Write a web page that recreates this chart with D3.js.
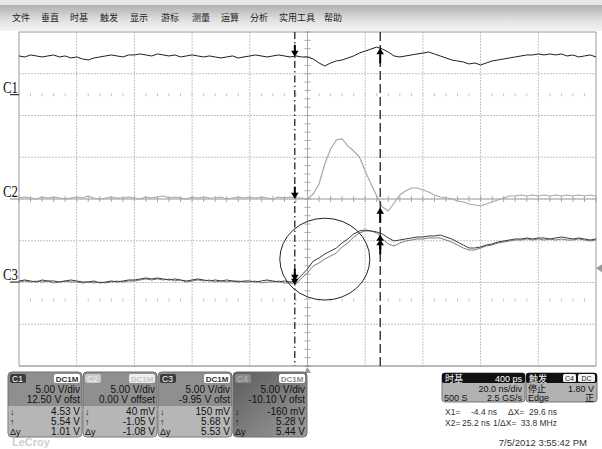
<!DOCTYPE html>
<html>
<head>
<meta charset="utf-8">
<script src="https://cdnjs.cloudflare.com/ajax/libs/d3/7.8.5/d3.min.js"></script>
<style>
html, body { margin: 0; padding: 0; background: #fff; }
svg { display: block; font-family: "Liberation Sans", Arial, sans-serif; }
</style>
</head>
<body>
<div id="scope"></div>
<script>
// menu bar
let menuItems = ["文件", "垂直", "时基", "触发", "显示", "游标", "测量", "运算", "分析", "实用工具", "帮助"];

// sample times (ns), 20 ns/div
let timeNs = [-100, -98, -96, -94, -92, -90, -88, -86, -84, -82,
    -80, -78, -76, -74, -72, -70, -68, -66, -64, -62,
    -60, -58, -56, -54, -52, -50, -48, -46, -44, -42,
    -40, -38, -36, -34, -32, -30, -28, -26, -24, -22,
    -20, -18, -16, -14, -12, -10, -8, -6, -4, -2,
    0, 2, 4, 6, 8, 10, 12, 14, 16, 18,
    20, 22, 24, 26, 28, 30, 32, 34, 36, 38,
    40, 42, 44, 46, 48, 50, 52, 54, 56, 58,
    60, 62, 64, 66, 68, 70, 72, 74, 76, 78,
    80, 82, 84, 86, 88, 90, 92, 94, 96, 98, 100];

// trace values (V)
let c1Volts = [4.63, 4.51, 4.75, 4.63, 4.51, 4.63, 4.75, 4.51, 4.63, 4.39,
    4.51, 4.27, 4.15, 4.39, 4.51, 4.63, 4.75, 4.63, 4.51, 4.75,
    4.75, 4.87, 4.75, 4.63, 4.87, 4.75, 4.63, 4.75, 4.51, 4.63,
    4.75, 4.63, 4.51, 4.63, 4.51, 4.39, 4.51, 4.63, 4.39, 4.51,
    4.63, 4.75, 4.63, 4.51, 4.63, 4.75, 4.63, 4.51,
    4.63, 4.51, 4.51, 4.27, 3.79, 3.43, 3.79, 4.03, 4.15, 4.39,
    4.63, 4.98, 5.22, 5.46, 5.70, 5.46, 5.10, 4.63, 4.51, 4.63,
    4.75, 4.87, 4.98, 5.10, 4.87, 4.63, 4.39, 4.15, 4.03, 3.91,
    3.67, 3.79, 3.55, 3.79, 4.03, 4.15, 4.27, 4.39, 4.51, 4.63,
    4.75, 4.75, 4.87, 4.75, 4.87, 4.75, 4.87, 4.63, 4.75, 4.51,
    4.63, 4.75, 4.51];

let c2Volts = [0.12, 0.24, 0.12, 0, 0.24, 0.12, 0.24, 0.12, 0, 0.12,
    0.24, 0.12, 0.36, 0.12, 0, 0.12, 0.24, 0.12, 0.12, 0.24,
    0.12, 0, 0.24, 0.12, 0.24, 0.36, 0.12, 0.24, 0.12, 0,
    0.24, 0.12, 0.24, 0.12, 0.12, 0.24, 0, 0.12, 0.24, 0.12,
    0.24, 0.12, 0.24, 0.12, 0, 0.24, 0.12, 0.24,
    0.12, 0.12, 0, 0.60, 1.80, 4.19, 5.99, 7.07, 7.19, 6.35,
    5.75, 5.03, 3.35, 1.80, 0.36, -0.96, -1.44, -0.48, 0.48, 0.96,
    1.32, 1.32, 1.08, 0.84, 0.48, 0.24, 0.12, 0, -0.24, -0.36,
    -0.60, -0.72, -0.84, -0.60, -0.36, -0.12, 0.12, 0.36, 0.36, 0.48,
    0.36, 0.48, 0.36, 0.48, 0.36, 0.48, 0.36, 0.48, 0.36, 0.48,
    0.36, 0.48, 0.36];

let c3Volts = [0.13, 0.25, 0.13, 0.01, 0.25, 0.13, 0.13, 0.01, 0.13, 0.25,
    0.13, 0.01, 0.01, 0.13, -0.11, 0.01, 0.13, 0.01, 0.13, 0.25,
    0.25, 0.37, 0.49, 0.37, 0.49, 0.37, 0.25, 0.37, 0.25, 0.13,
    0.25, 0.37, 0.25, 0.13, 0.25, 0.13, 0.25, 0.13, 0.01, 0.13,
    0.13, 0.01, 0.13, 0.25, 0.13, 0.01, 0.13, 0.01,
    0.13, 0.85, 1.57, 2.52, 2.88, 3.36, 3.72, 4.08, 4.68, 5.16,
    5.76, 6.12, 6.24, 6.12, 6.00, 5.76, 5.28, 4.92, 5.04, 5.16,
    5.28, 5.40, 5.40, 5.52, 5.52, 5.64, 5.40, 5.16, 4.80, 4.44,
    4.08, 4.08, 4.20, 4.44, 4.56, 4.80, 4.92, 5.04, 5.16, 5.16,
    5.28, 5.16, 5.28, 5.28, 5.16, 5.28, 5.40, 5.28, 5.16, 5.28,
    5.16, 5.04, 5.16];

let c4Volts = [0.16, 0.28, 0.16, 0.28, 0.16, 0.28, 0.04, 0.16, 0.28, 0.16,
    0.16, 0.04, 0.16, 0.04, 0.16, 0.04, 0.16, 0.28, 0.16, 0.28,
    0.28, 0.40, 0.52, 0.40, 0.52, 0.40, 0.52, 0.28, 0.40, 0.16,
    0.28, 0.40, 0.28, 0.40, 0.16, 0.28, 0.16, 0.28, 0.28, 0.16,
    0.16, 0.28, 0.04, 0.16, 0.16, 0.28, 0.04, 0.04,
    -0.08, 0.64, 1.24, 2.08, 2.44, 2.91, 3.27, 3.63, 4.35, 4.83,
    5.55, 6.03, 6.27, 6.27, 6.03, 5.31, 4.71, 4.47, 4.83, 5.07,
    5.19, 5.31, 5.31, 5.43, 5.43, 5.43, 5.19, 4.95, 4.59, 4.23,
    3.99, 3.99, 4.23, 4.47, 4.59, 4.83, 4.95, 5.07, 5.19, 5.19,
    5.31, 5.19, 5.31, 5.19, 5.31, 5.19, 5.31, 5.19, 5.19, 5.31,
    5.19, 5.07, 5.19];

// channel setup
let chNames = ["C1", "C2", "C3", "C4"];
let chVdiv = [5, 5, 5, 5];
let chOffset = [12.5, 0, -9.95, -10.10];
let chDivText = ["5.00 V/div", "5.00 V/div", "5.00 V/div", "5.00 V/div"];
let chOfstText = ["12.50 V ofst", "0.00 V offset", "-9.95 V ofst", "-10.10 V ofst"];
let cur1Text = ["4.53 V", "40 mV", "150 mV", "-160 mV"];
let cur2Text = ["5.54 V", "-1.05 V", "5.68 V", "5.28 V"];
let dyText = ["1.01 V", "-1.08 V", "5.53 V", "5.44 V"];
let cur1Volts = [4.53, 0.04, 0.15, -0.16];
let cur2Volts = [5.54, -1.05, 5.68, 5.28];

// cursors and trigger
let cursorNs = [-4.4, 25.2];
let trigNs = 0, trigLevel = 1.80, trigChannel = 3;
let refRowsDiv = [2.5, -2.42];

let readout1 = ["X1=", "-4.4 ns", "ΔX=", "29.6 ns"];
let readout2 = ["X2=", "25.2 ns", "1/ΔX=", "33.8 MHz"];

const W = 602, H = 449;
const svg = d3.select("#scope").append("svg").attr("width", W).attr("height", H);
const defs = svg.append("defs");

const x = d3.scaleLinear().domain([-100, 100]).range([19, 596]);
const y = d3.scaleLinear().domain([-4, 4]).range([366, 32]);

function divOf(ch, v) {
    return (v + chOffset[ch]) / chVdiv[ch];
}

// menu bar
let mg = defs.append("linearGradient").attr("id", "menuGrad")
    .attr("x1", 0).attr("y1", 0).attr("x2", 0).attr("y2", 1);
mg.append("stop").attr("offset", "0%").attr("stop-color", "#b0b0b0");
mg.append("stop").attr("offset", "60%").attr("stop-color", "#e2e2e2");
mg.append("stop").attr("offset", "100%").attr("stop-color", "#f3f3f3");
svg.append("rect").attr("x", 0).attr("y", 0).attr("width", W).attr("height", 5).attr("fill", "#e6e6e6");
svg.append("rect").attr("x", 0).attr("y", 5).attr("width", W).attr("height", 26).attr("fill", "url(#menuGrad)");

let menuPos = [12, 41, 70, 100, 130, 161, 192, 221, 250, 279, 324];
svg.selectAll(".menu")
    .data(menuItems)
    .enter()
    .append("text")
    .attr("x", (d, i) => menuPos[i])
    .attr("y", 21)
    .attr("font-family", "'Noto Sans CJK SC', sans-serif")
    .attr("font-size", 9)
    .attr("fill", "#222")
    .text(d => d);

// grid
const grid = svg.append("g");
grid.selectAll(".vg")
    .data(x.ticks(10).slice(1, -1))
    .enter()
    .append("line")
    .attr("x1", d => x(d)).attr("x2", d => x(d))
    .attr("y1", y(4)).attr("y2", y(-4))
    .attr("stroke", "#c2c2c2").attr("stroke-dasharray", "2,1");
grid.selectAll(".hg")
    .data(y.ticks(8).slice(1, -1))
    .enter()
    .append("line")
    .attr("x1", x(-100)).attr("x2", x(100))
    .attr("y1", d => y(d)).attr("y2", d => y(d))
    .attr("stroke", "#c2c2c2").attr("stroke-dasharray", "2,1");

// centre axes with minor ticks
grid.append("line").attr("x1", x(0)).attr("x2", x(0)).attr("y1", y(4)).attr("y2", y(-4))
    .attr("stroke", "#a8a8a8");
grid.append("line").attr("x1", x(-100)).attr("x2", x(100)).attr("y1", y(0)).attr("y2", y(0))
    .attr("stroke", "#a8a8a8");
grid.selectAll(".ty")
    .data(d3.range(-4, 4.01, 0.2))
    .enter()
    .append("line")
    .attr("x1", x(0) - 3).attr("x2", x(0) + 3)
    .attr("y1", d => y(d)).attr("y2", d => y(d))
    .attr("stroke", "#a8a8a8");
grid.selectAll(".tx")
    .data(d3.range(-100, 100.1, 4))
    .enter()
    .append("line")
    .attr("x1", d => x(d)).attr("x2", d => x(d))
    .attr("y1", y(0) - 3).attr("y2", y(0) + 3)
    .attr("stroke", "#a8a8a8");

// reference rows of small dots
refRowsDiv.forEach(r => {
    grid.selectAll(null)
        .data(d3.range(-96, 97, 4))
        .enter()
        .append("line")
        .attr("x1", d => x(d)).attr("x2", d => x(d))
        .attr("y1", y(r) - 1.5).attr("y2", y(r) + 1.5)
        .attr("stroke", d => d % 20 === 0 ? "#d0d0d0" : "#c6c6c6");
});

// border
grid.append("line").attr("x1", x(-100)).attr("x2", x(100)).attr("y1", y(4)).attr("y2", y(4)).attr("stroke", "#9a9a9a");
grid.append("line").attr("x1", x(-100)).attr("x2", x(100)).attr("y1", y(-4)).attr("y2", y(-4)).attr("stroke", "#777");
grid.append("line").attr("x1", x(-100)).attr("x2", x(-100)).attr("y1", y(4)).attr("y2", y(-4)).attr("stroke", "#9a9a9a");
grid.append("line").attr("x1", x(100)).attr("x2", x(100)).attr("y1", y(4)).attr("y2", y(-4)).attr("stroke", "#9a9a9a");

// traces
let traceColor = ["#1e1e1e", "#a9a9a9", "#3a3a3a", "#7c7c7c"];
let traceData = [c1Volts, c2Volts, c3Volts, c4Volts];
let drawOrder = [1, 3, 2, 0];
drawOrder.forEach(ch => {
    let line = d3.line()
        .x((d, i) => x(timeNs[i]))
        .y(d => y(divOf(ch, d)));
    svg.append("path")
        .datum(traceData[ch])
        .attr("fill", "none")
        .attr("stroke", traceColor[ch])
        .attr("stroke-width", ch === 1 ? 1.2 : 1)
        .attr("stroke-linejoin", "round")
        .attr("d", line);
});

// channel zero markers and labels
[0, 1, 2].forEach(ch => {
    let zy = y(divOf(ch, 0));
    svg.append("line").attr("x1", 10).attr("x2", x(-100)).attr("y1", zy).attr("y2", zy)
        .attr("stroke", ch === 1 ? "#9a9a9a" : "#333").attr("stroke-width", 1.2);
    svg.append("text")
        .attr("x", 3).attr("y", zy - 2)
        .attr("font-family", "'Liberation Serif', 'DejaVu Serif', serif")
        .attr("font-size", 17)
        .attr("textLength", 15)
        .attr("lengthAdjust", "spacingAndGlyphs")
        .attr("fill", "#111")
        .text(chNames[ch]);
});

// cursors
svg.append("line").attr("x1", x(cursorNs[0])).attr("x2", x(cursorNs[0]))
    .attr("y1", y(4)).attr("y2", y(-4))
    .attr("stroke", "#111").attr("stroke-width", 1.2).attr("stroke-dasharray", "7,3,1.5,3");
svg.append("line").attr("x1", x(cursorNs[1])).attr("x2", x(cursorNs[1]))
    .attr("y1", y(4)).attr("y2", y(-4))
    .attr("stroke", "#111").attr("stroke-width", 1.2).attr("stroke-dasharray", "9,4");

function arrow(cx, tip, dir, len) {
    // dir = 1 points down, -1 points up
    let g = svg.append("g");
    g.append("line").attr("x1", cx).attr("x2", cx)
        .attr("y1", tip - dir * len).attr("y2", tip - dir * 4)
        .attr("stroke", "#000").attr("stroke-width", 2);
    g.append("path")
        .attr("d", `M${cx - 3.8},${tip - dir * 6}L${cx + 3.8},${tip - dir * 6}L${cx},${tip}Z`)
        .attr("fill", "#000");
}
chNames.forEach((c, ch) => {
    arrow(x(cursorNs[0]), y(divOf(ch, cur1Volts[ch])), 1, 12);
    arrow(x(cursorNs[1]), y(divOf(ch, cur2Volts[ch])), -1, 15);
});

// annotation ellipse
svg.append("ellipse")
    .attr("cx", x(6)).attr("cy", y(-1.44))
    .attr("rx", x(21.6) - x(6)).attr("ry", y(-2.42) - y(-1.44))
    .attr("fill", "none").attr("stroke", "#222").attr("stroke-width", 1);

// trigger markers
svg.append("path")
    .attr("d", `M${x(trigNs) - 3.5},${y(-4) + 7}L${x(trigNs) + 3.5},${y(-4) + 7}L${x(trigNs)},${y(-4) + 1}Z`)
    .attr("fill", "#9a9a9a");
let ty = y(divOf(trigChannel, trigLevel));
svg.append("path")
    .attr("d", `M${W},${ty - 4}L${W},${ty + 4}L${W - 6},${ty}Z`)
    .attr("fill", "#9a9a9a");

// channel boxes
let c4g = defs.append("linearGradient").attr("id", "c4Grad")
    .attr("x1", 0).attr("y1", 0).attr("x2", 1).attr("y2", 1);
c4g.append("stop").attr("offset", "0%").attr("stop-color", "#5c5c5c");
c4g.append("stop").attr("offset", "100%").attr("stop-color", "#9c9c9c");

let boxX = [8, 83, 158, 233];
let boxW = 74, boxH = 65, boxY = 372;
chNames.forEach((name, i) => {
    let g = svg.append("g").attr("transform", `translate(${boxX[i]},${boxY})`);
    g.append("rect").attr("width", boxW).attr("height", boxH).attr("rx", 4)
        .attr("fill", i === 3 ? "url(#c4Grad)" : "#8f8f8f").attr("stroke", "#6e6e6e");
    if (i !== 3) {
        g.append("rect").attr("x", 0.5).attr("y", 34).attr("width", boxW - 1).attr("height", boxH - 34.5).attr("rx", 3.5)
            .attr("fill", "#b6b6b6");
        g.append("rect").attr("x", 0.5).attr("y", 34).attr("width", boxW - 1).attr("height", 5).attr("fill", "#b6b6b6");
    }
    let active = i === 0 || i === 2;
    g.append("rect").attr("x", 2).attr("y", 2).attr("width", 16).attr("height", 9).attr("rx", 2)
        .attr("fill", active ? "#3a3a3a" : (i === 1 ? "#cacaca" : "#8a8a8a"));
    g.append("text").attr("x", 4).attr("y", 9.5).attr("font-size", 8.5)
        .attr("fill", active ? "#fff" : (i === 1 ? "#eee" : "#b8b8b8")).text(name);
    g.append("rect").attr("x", 46).attr("y", 2).attr("width", 26).attr("height", 9).attr("rx", 2)
        .attr("fill", i === 1 ? "#eeeeee" : "#fff");
    g.append("text").attr("x", 59).attr("y", 9.5).attr("font-size", 8).attr("font-weight", "bold")
        .attr("text-anchor", "middle")
        .attr("fill", active ? "#333" : (i === 1 ? "#c4c4c4" : "#888")).text("DC1M");

    let right = boxW - 2;
    g.append("text").attr("x", right).attr("y", 21).attr("font-size", 10).attr("text-anchor", "end")
        .attr("fill", "#111").text(chDivText[i]);
    g.append("text").attr("x", right).attr("y", 31).attr("font-size", 10).attr("text-anchor", "end")
        .attr("fill", "#111").text(chOfstText[i]);
    let rows = [["↓", cur1Text[i]], ["↑", cur2Text[i]], ["Δy", dyText[i]]];
    rows.forEach((r, k) => {
        g.append("text").attr("x", 2).attr("y", 43 + k * 10).attr("font-size", 9).attr("fill", "#111").text(r[0]);
        g.append("text").attr("x", right).attr("y", 43 + k * 10).attr("font-size", 10).attr("text-anchor", "end")
            .attr("fill", "#111").text(r[1]);
    });
});

// timebase and trigger boxes
function infoBox(bx, bw, title, rows) {
    let g = svg.append("g").attr("transform", `translate(${bx},373)`);
    g.append("rect").attr("width", bw).attr("height", 29).attr("rx", 3).attr("fill", "#b2b2b2").attr("stroke", "#777");
    g.append("rect").attr("width", bw).attr("height", 10).attr("rx", 2).attr("fill", "#111");
    g.append("text").attr("x", 3).attr("y", 8.5).attr("font-size", 9)
        .attr("font-family", "'Noto Sans CJK SC', sans-serif").attr("fill", "#fff").text(title);
    rows.forEach((r, k) => {
        if (r[0]) {
            g.append("text").attr("x", 2).attr("y", 18.5 + k * 9).attr("font-size", 9)
                .attr("font-family", "'Liberation Sans', 'Noto Sans CJK SC', sans-serif")
                .attr("fill", "#111").text(r[0]);
        }
        g.append("text").attr("x", bw - 3).attr("y", 18.5 + k * 9).attr("font-size", 9)
            .attr("font-family", "'Liberation Sans', 'Noto Sans CJK SC', sans-serif")
            .attr("text-anchor", "end").attr("fill", "#111").text(r[1]);
    });
    return g;
}
let tb = infoBox(442, 83, "时基", [["", "20.0 ns/div"], ["500 S", "2.5 GS/s"]]);
tb.append("text").attr("x", 80).attr("y", 8.5).attr("font-size", 9).attr("text-anchor", "end")
    .attr("fill", "#fff").text("400 ps");
let tr = infoBox(526, 71, "触发", [["停止", "1.80 V"], ["Edge", "正"]]);
tr.append("rect").attr("x", 37).attr("y", 1).attr("width", 13).attr("height", 8).attr("rx", 1.5).attr("fill", "#f4f4f4");
tr.append("text").attr("x", 43.5).attr("y", 7.8).attr("font-size", 7).attr("text-anchor", "middle").attr("fill", "#222").text("C4");
tr.append("rect").attr("x", 52).attr("y", 1).attr("width", 17).attr("height", 8).attr("rx", 1.5).attr("fill", "#f4f4f4");
tr.append("text").attr("x", 60.5).attr("y", 7.8).attr("font-size", 7).attr("text-anchor", "middle").attr("fill", "#222").text("DC");

// cursor readouts: [x, anchor] for each piece
let readPos1 = [[445, "start"], [497, "end"], [508, "start"], [557, "end"]];
let readPos2 = [[445, "start"], [490, "end"], [493, "start"], [557, "end"]];
[readout1, readout2].forEach((row, k) => {
    row.forEach((t, j) => {
        let p = k === 0 ? readPos1[j] : readPos2[j];
        svg.append("text")
            .attr("x", p[0]).attr("y", 415 + k * 11)
            .attr("font-size", 8.5)
            .attr("text-anchor", p[1])
            .attr("fill", "#333")
            .text(t);
    });
});

svg.append("text").attr("x", 587).attr("y", 446).attr("font-size", 9.5).attr("text-anchor", "end")
    .attr("fill", "#333").text("7/5/2012 3:55:42 PM");
svg.append("text").attr("x", 12).attr("y", 446).attr("font-size", 11).attr("font-weight", "bold")
    .attr("fill", "#cfcfcf").text("LeCroy");
</script>
</body>
</html>
